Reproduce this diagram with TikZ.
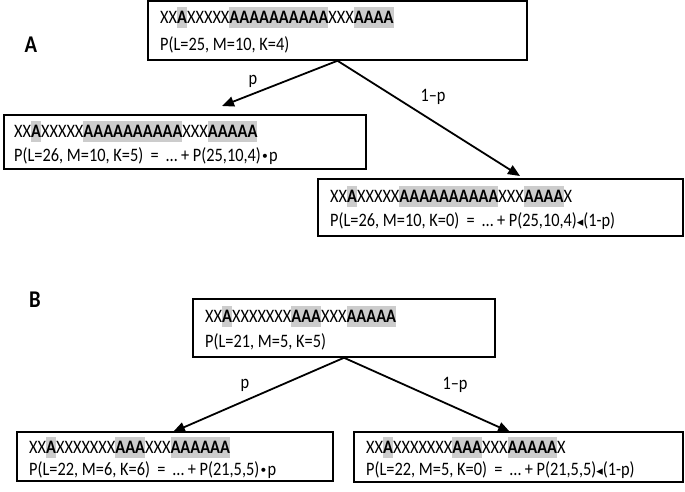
\documentclass[tikz,border=0pt]{standalone}
\usepackage{fontspec}
\setmainfont{Carlito}[FakeStretch=0.86]
\newfontfamily\symf{DejaVu Sans}
\usetikzlibrary{arrows.meta}
\definecolor{hl}{RGB}{204,204,204}
\newcommand{\hlA}[1]{{\setlength{\fboxsep}{0pt}\colorbox{hl}{\rule[-4.5pt]{0pt}{21pt}\textbf{#1}}}}
\newcommand{\mdot}{{\symf\fontsize{14}{14}\selectfont •}}
\newcommand{\ltri}{{\symf\fontsize{13}{14}\selectfont ◂}}
\begin{document}
\begin{tikzpicture}[x=1pt,y=-1pt,
  box/.style={draw, line width=1.5pt, inner sep=0pt},
  txt/.style={anchor=base west, inner sep=0pt, font=\fontsize{19}{22}\selectfont},
  arr/.style={line width=1.8pt, -{Triangle[length=12pt,width=10pt]}},
  lab/.style={font=\fontsize{19}{22}\selectfont, inner sep=0pt},
  big/.style={font=\fontsize{24}{26}\selectfont\bfseries, inner sep=0pt}]
\useasboundingbox (0,0) rectangle (685,491);
\fill[white] (0,0) rectangle (685,491);

% ---------- A ----------
\node[big] (labA) at (31,45) {A};
\node[box, minimum width=379pt, minimum height=59pt] (A0) at (337.5,30.5) {};
\node[txt] (A0a) at (160,23) {XX\hlA{A}XXXXX\hlA{AAAAAAAAAA}XXX\hlA{AAAA}};
\node[txt] (A0b) at (160,50) {P(L=25, M=10, K=4)};

\node[box, minimum width=362pt, minimum height=54pt] (A1) at (185,142) {};
\node[txt] (A1a) at (14,137) {XX\hlA{A}XXXXX\hlA{AAAAAAAAAA}XXX\hlA{AAAAA}};
\node[txt] (A1b) at (14,161) {P(L=26, M=10, K=5)\ \ =\ \ … + P(25,10,4)\mdot p};

\node[box, minimum width=365pt, minimum height=57pt] (A2) at (500.5,207.5) {};
\node[txt] (A2a) at (330,202) {XX\hlA{A}XXXXX\hlA{AAAAAAAAAA}XXX\hlA{AAAA}X};
\node[txt] (A2b) at (330,226) {P(L=26, M=10, K=0)\ \ =\ \ … + P(25,10,4)\ltri(1-p)};

\coordinate (tA1) at (222,106);
\coordinate (tA2) at (520,176);
\draw[arr] (A0.south) -- (tA1);
\draw[arr] (A0.south) -- (tA2);
\node[lab] (pA) at (253,81) {p};
\node[lab] (qA) at (433,97) {1–p};

% ---------- B ----------
\node[big] (labB) at (35,300) {B};
\node[box, minimum width=302pt, minimum height=58pt] (B0) at (344,328) {};
\node[txt] (B0a) at (205,322) {XX\hlA{A}XXXXXXX\hlA{AAA}XXX\hlA{AAAAA}};
\node[txt] (B0b) at (205,347) {P(L=21, M=5, K=5)};

\node[box, minimum width=316pt, minimum height=49pt] (B1) at (175,456.5) {};
\node[txt] (B1a) at (29,453) {XX\hlA{A}XXXXXXX\hlA{AAA}XXX\hlA{AAAAAA}};
\node[txt] (B1b) at (29,475) {P(L=22, M=6, K=6)\ \ =\ \ … + P(21,5,5)\mdot p};

\node[box, minimum width=329pt, minimum height=50pt] (B2) at (518.5,457) {};
\node[txt] (B2a) at (366,453) {XX\hlA{A}XXXXXXX\hlA{AAA}XXX\hlA{AAAAA}X};
\node[txt] (B2b) at (366,475) {P(L=22, M=5, K=0)\ \ =\ \ … + P(21,5,5)\ltri(1-p)};

\coordinate (tB1) at (173,432);
\coordinate (tB2) at (510,432);
\draw[arr] (B0.south) -- (tB1);
\draw[arr] (B0.south) -- (tB2);
\node[lab] (pB) at (245,385) {p};
\node[lab] (qB) at (455,385) {1–p};
\end{tikzpicture}
\end{document}
